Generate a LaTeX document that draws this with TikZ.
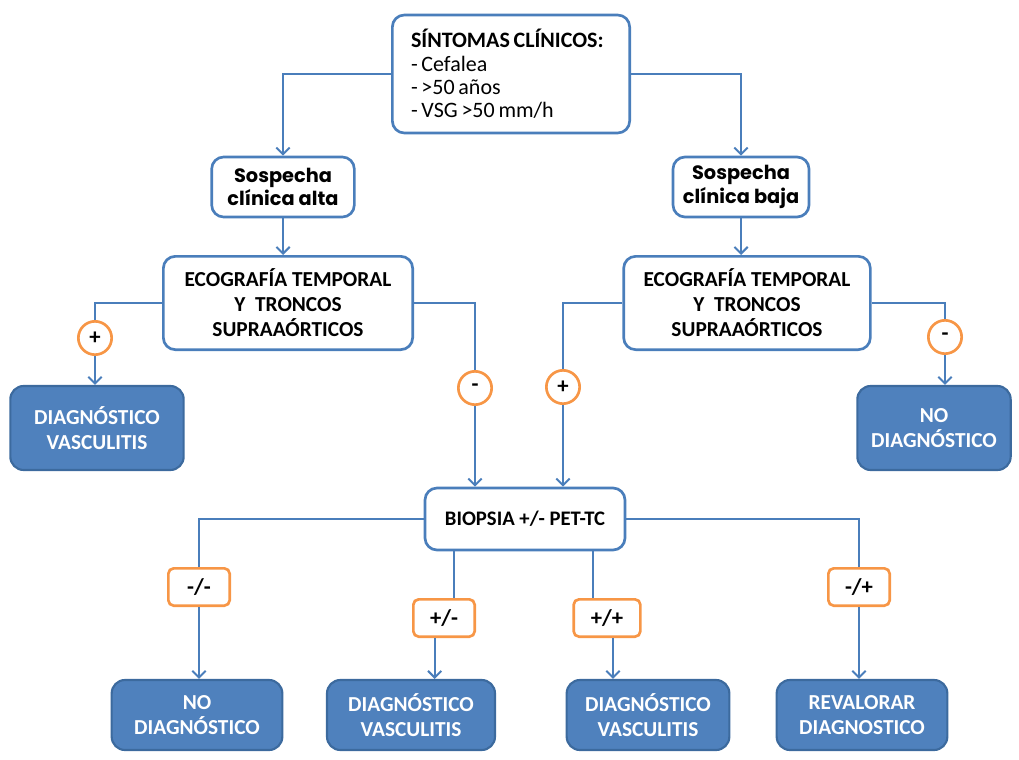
\documentclass[tikz,border=0pt]{standalone}
\usepackage{fontspec}
\setmainfont{Carlito}
\newfontfamily\gothfont{Poppins}
\usepackage{tikz}
\usepackage{xcolor}
\usetikzlibrary{calc,arrows.meta,positioning}

\definecolor{flowblue}{HTML}{4F81BD}
\definecolor{flowdark}{HTML}{3C6A9E}
\definecolor{flowline}{HTML}{4A7EBB}
\definecolor{flowor}{HTML}{F79646}

\newcommand{\tightspace}{\spaceskip=0.75\fontdimen2\font\relax}

\tikzset{
  whitebox/.style={draw=flowline, line width=2pt, rounded corners=9pt, fill=white,
    align=center, inner sep=2pt, font=\bfseries\fontsize{16}{18.75}\selectfont},
  bluebox/.style={draw=flowdark, line width=1.6pt, rounded corners=10pt, fill=flowblue,
    text=white, align=center, inner sep=2pt, font=\bfseries\fontsize{16}{19}\selectfont},
  pmcirc/.style={circle, draw=flowor, line width=2pt, fill=white, minimum size=25pt,
    inner sep=0pt, font=\bfseries\fontsize{17}{18}\selectfont},
  pmtag/.style={rectangle, rounded corners=4pt, draw=flowor, line width=2pt, fill=white,
    minimum width=46pt, minimum height=28pt, inner sep=0pt, font=\bfseries\fontsize{17}{18}\selectfont},
  link/.style={draw=flowline, line width=1.5pt},
  arr/.style={link, -{Straight Barb[length=5pt,width=10pt]}}
}

\begin{document}
\begin{tikzpicture}[x=0.75pt,y=-0.75pt]
\useasboundingbox (0,0) rectangle (1019,759);

% boxes
\node[whitebox, font=\fontsize{16.5}{17.5}\selectfont, align=left, text width=150pt,
  inner xsep=14pt, minimum height=88.5pt] (sintomas) at (511,74)
  {\tightspace\textbf{SÍNTOMAS CLÍNICOS:}\\- Cefalea\\- >50 años\\- VSG >50 mm/h};
\node[whitebox, font=\gothfont\bfseries\fontsize{14.5}{17.5}\selectfont, minimum width=107pt, minimum height=45pt] (alta) at (283,187) {Sospecha\\clínica alta};
\node[whitebox, font=\gothfont\bfseries\fontsize{14.5}{17.5}\selectfont, minimum width=102pt, minimum height=45pt] (baja) at (741,187) {Sospecha\\clínica baja};
\node[whitebox, minimum width=187pt, minimum height=70pt] (ecoL) at (288,303) {ECOGRAFÍA TEMPORAL\\Y\ \ TRONCOS\\SUPRAAÓRTICOS};
\node[whitebox, minimum width=185pt, minimum height=70pt] (ecoR) at (747,303) {ECOGRAFÍA TEMPORAL\\Y\ \ TRONCOS\\SUPRAAÓRTICOS};
\node[bluebox, minimum width=130pt, minimum height=63pt] (diagL) at (97,428) {DIAGNÓSTICO\\VASCULITIS};
\node[bluebox, minimum width=115pt, minimum height=63pt] (noR) at (934,428) {NO\\DIAGNÓSTICO};
\node[whitebox, font=\bfseries\fontsize{15.5}{18}\selectfont, minimum width=150pt, minimum height=46.5pt] (bio) at (525,519) {BIOPSIA +/- PET-TC};
\node[bluebox, minimum width=128pt, minimum height=52.5pt] (res1) at (197,715) {NO\\DIAGNÓSTICO};
\node[bluebox, minimum width=126pt, minimum height=52.5pt] (res2) at (411,715) {DIAGNÓSTICO\\VASCULITIS};
\node[bluebox, minimum width=122pt, minimum height=52.5pt] (res3) at (648,715) {DIAGNÓSTICO\\VASCULITIS};
\node[bluebox, minimum width=128pt, minimum height=52.5pt] (res4) at (862,715) {REVALORAR\\DIAGNOSTICO};

% badges
\node[pmcirc] (c1) at (95,338) {+};
\node[pmcirc] (c2) at (475,388) {-};
\node[pmcirc] (c3) at (563,387) {+};
\node[pmcirc] (c4) at (945,337) {-};
\node[pmtag] (t1) at (199,587) {-/-};
\node[pmtag] (t2) at (444,618) {+/-};
\node[pmtag, minimum width=50pt] (t3) at (607,618) {+/+};
\node[pmtag] (t4) at (859,587) {-/+};

% connectors
\draw[arr] (sintomas.west) -| (alta.north);
\draw[arr] (sintomas.east) -| (baja.north);
\draw[arr] (alta.south) -- (alta.south |- ecoL.north);
\draw[arr] (baja.south) -- (baja.south |- ecoR.north);
\draw[link] (ecoL.west) -| (c1.north);
\draw[arr] (c1.south) -- (c1.south |- diagL.north);
\draw[link] (ecoL.east) -| (c2.north);
\draw[arr] (c2.south) -- (c2.south |- bio.north);
\draw[link] (ecoR.west) -| (c3.north);
\draw[arr] (c3.south) -- (c3.south |- bio.north);
\draw[link] (ecoR.east) -| (c4.north);
\draw[arr] (c4.south) -- (c4.south |- noR.north);

\draw[link] (bio.west) -| (t1.north);
\draw[arr] (t1.south) -- (t1.south |- res1.north);
\draw[link] (bio.east) -| (t4.north);
\draw[arr] (t4.south) -- (t4.south |- res4.north);
\coordinate (t2in) at ([xshift=7.5pt]t2.north);
\coordinate (t2out) at ([xshift=-7pt]t2.south);
\coordinate (t3in) at ([xshift=-10.5pt]t3.north);
\coordinate (t3out) at ([xshift=4.5pt]t3.south);
\draw[link] (t2in |- bio.south) -- (t2in);
\draw[arr] (t2out) -- (t2out |- res2.north);
\draw[link] (t3in |- bio.south) -- (t3in);
\draw[arr] (t3out) -- (t3out |- res3.north);
\end{tikzpicture}
\end{document}
